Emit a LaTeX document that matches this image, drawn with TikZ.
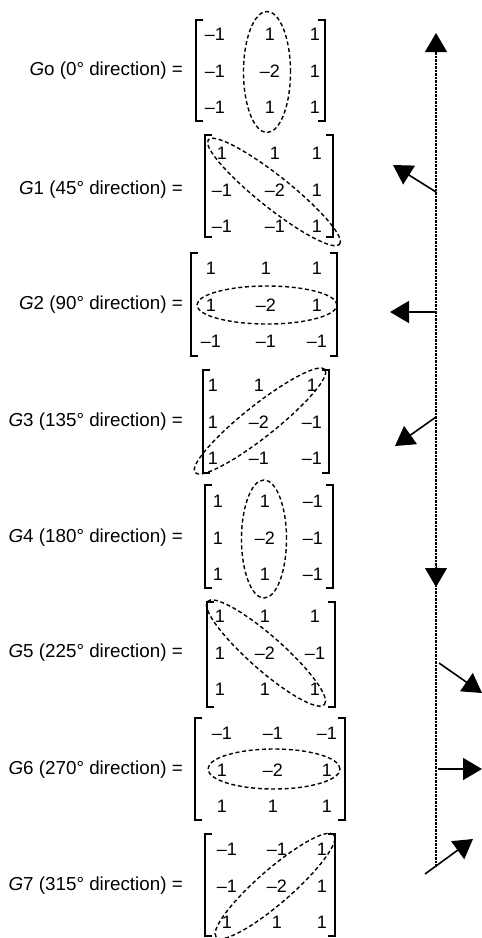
\documentclass[tikz,border=0pt]{standalone}
\usepackage{fontspec}
\setmainfont{Liberation Sans}
\usetikzlibrary{arrows.meta}

% one kernel: #1 name, #2 centre row y, #3/#4/#5 column x, #6 the nine entries
\newcommand{\kerngrid}[6]{%
  \foreach \kv [count=\kk from 0] in {#6} {
    \pgfmathtruncatemacro{\krow}{div(\kk,3)}
    \pgfmathtruncatemacro{\kcol}{mod(\kk,3)}
    \pgfmathsetmacro{\kx}{{#3,#4,#5}[\kcol]}
    \node[ent] (#1-\krow-\kcol) at (\kx, {#2+36.5*(\krow-1)}) {\kv};
  }%
}
% square brackets: #1 left x, #2 right x, #3 top y, #4 bottom y
\newcommand{\kernbrackets}[4]{%
  \draw[brk] (#1+7,#3) -- (#1,#3) -- (#1,#4) -- (#1+7,#4);
  \draw[brk] (#2-7,#3) -- (#2,#3) -- (#2,#4) -- (#2-7,#4);
}

\begin{document}
\begin{tikzpicture}[x=1pt,y=-1pt,
  lbl/.style={anchor=east, inner sep=0pt, font=\fontsize{18.8}{21}\selectfont},
  ent/.style={inner sep=0pt, font=\fontsize{18}{20}\selectfont},
  brk/.style={line width=1.7pt},
  ring/.style={draw, line width=1.4pt, dash pattern=on 4pt off 2.7pt},
  vec/.style={line width=1.6pt, -{Triangle[length=19pt,width=22pt]}},
  axisline/.style={line width=1.3pt, dash pattern=on 0.7pt off 0.7pt}]
\useasboundingbox (0,0) rectangle (482,938);

% ---- G0
\node[lbl] (lab0) at (183,71) {\textit{G}o (0° direction) =};
\kerngrid{g0}{71}{215}{270}{315}{–1,1,1,–1,–2,1,–1,1,1}
\kernbrackets{196}{325}{20}{121}
\draw[ring] (267,72) ellipse [x radius=23.5pt, y radius=60.5pt];

% ---- G1
\node[lbl] (lab1) at (183,190) {\textit{G}1 (45° direction) =};
\kerngrid{g1}{190}{222}{275}{317}{1,1,1,–1,–2,1,–1,–1,1}
\kernbrackets{205}{333}{135}{237}
\draw[ring, rotate around={-38.5:(274,192)}] (274,192) ellipse [x radius=84pt, y radius=16pt];

% ---- G2
\node[lbl] (lab2) at (183,305) {\textit{G}2 (90° direction) =};
\kerngrid{g2}{305}{211}{266}{317}{1,1,1,1,–2,1,–1,–1,–1}
\kernbrackets{191}{337}{253}{356}
\draw[ring] (267,305) ellipse [x radius=70pt, y radius=19pt];

% ---- G3
\node[lbl] (lab3) at (183,422) {\textit{G}3 (135° direction) =};
\kerngrid{g3}{422}{213}{259}{312}{1,1,1,1,–2,–1,1,–1,–1}
\kernbrackets{203}{329}{370}{473}
\draw[ring, rotate around={38.4:(260,421)}] (260,421) ellipse [x radius=83pt, y radius=16pt];

% ---- G4
\node[lbl] (lab4) at (183,538) {\textit{G}4 (180° direction) =};
\kerngrid{g4}{538}{218}{265}{313}{1,1,–1,1,–2,–1,1,1,–1}
\kernbrackets{205}{333}{485}{588}
\draw[ring] (264,539) ellipse [x radius=22.5pt, y radius=59pt];

% ---- G5
\node[lbl] (lab5) at (183,653) {\textit{G}5 (225° direction) =};
\kerngrid{g5}{653}{220}{265}{315}{1,1,1,1,–2,–1,1,1,1}
\kernbrackets{207}{335}{602}{707}
\draw[ring, rotate around={-41.4:(266,653)}] (266,653) ellipse [x radius=78pt, y radius=17pt];

% ---- G6
\node[lbl] (lab6) at (183,770) {\textit{G}6 (270° direction) =};
\kerngrid{g6}{770}{222}{273}{327}{–1,–1,–1,1,–2,1,1,1,1}
\kernbrackets{195}{345}{718}{820}
\draw[ring] (274,769) ellipse [x radius=66pt, y radius=20pt];

% ---- G7
\node[lbl] (lab7) at (183,886) {\textit{G}7 (315° direction) =};
\kerngrid{g7}{886}{227}{277}{322}{–1,–1,1,–1,–2,1,1,1,1}
\kernbrackets{205}{335}{834}{936}
\draw[ring, rotate around={41:(275,886)}] (275,886) ellipse [x radius=78pt, y radius=17pt];

% ---- direction axis and gradient arrows
\coordinate (foot) at (436,867);
\coordinate (top) at (436,33);
\coordinate (downbase) at (436,566);
\coordinate (downtip) at (436,587);
\draw[axisline, -{Triangle[length=19pt,width=22pt]}] (foot) -- (top);
\draw[line width=0.4pt, -{Triangle[length=19pt,width=22pt]}] (downbase) -- (downtip);

\coordinate (o1) at (436,192); \coordinate (t1) at (393,165);
\coordinate (o2) at (436,312); \coordinate (t2) at (390,312);
\coordinate (o3) at (436,417); \coordinate (t3) at (395,446);
\coordinate (o5) at (439,663); \coordinate (t5) at (482,693);
\coordinate (o6) at (438,769); \coordinate (t6) at (482,769);
\coordinate (o7) at (425,874); \coordinate (t7) at (473,839);
\foreach \k in {1,2,3,5,6,7} \draw[vec] (o\k) -- (t\k);
\end{tikzpicture}
\end{document}
